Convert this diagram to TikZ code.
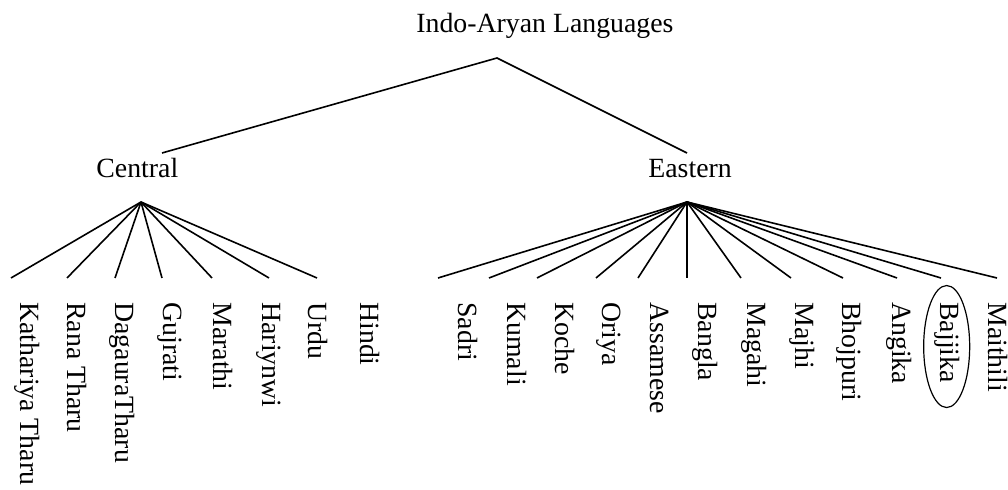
\documentclass[tikz,border=0pt]{standalone}
\usepackage{fontspec}
\setmainfont{Liberation Serif}

\begin{document}
\begin{tikzpicture}[x=0.5pt,y=0.5pt,
	font=\fontsize{13.9}{16}\selectfont,
	label/.style={anchor=base west,inner sep=0pt},
	leaf/.style={rotate=-90,anchor=base west,inner sep=0pt},
	branch/.style={line width=0.8pt}]
	\useasboundingbox (0,0) rectangle (1008,-490);

	\node[label] (root) at (416,-33) {Indo-Aryan Languages};
	\node[label] (central) at (96,-178) {Central};
	\node[label] (eastern) at (648,-178) {Eastern};

	\coordinate (root-fork) at (497,-58);
	\coordinate (central-top) at (162,-153);
	\coordinate (eastern-top) at (687,-153);
	\coordinate (central-fork) at (141,-202);
	\coordinate (eastern-fork) at (687,-202);

	% central leaves
	\node[leaf] (kathariya) at (20,-302) {Kathariya Tharu};
	\node[leaf] (rana) at (68,-302) {Rana Tharu};
	\node[leaf] (dagaura) at (115,-302) {DagauraTharu};
	\node[leaf] (gujrati) at (163,-302) {Gujrati};
	\node[leaf] (marathi) at (213,-302) {Marathi};
	\node[leaf] (hariynwi) at (262,-302) {Hariynwi};
	\node[leaf] (urdu) at (308,-302) {Urdu};
	\node[leaf] (hindi) at (360,-302) {Hindi};

	% eastern leaves
	\node[leaf] (sadri) at (458,-302) {Sadri};
	\node[leaf] (kumali) at (507,-302) {Kumali};
	\node[leaf] (koche) at (555,-302) {Koche};
	\node[leaf] (oriya) at (602,-302) {Oriya};
	\node[leaf] (assamese) at (650,-302) {Assamese};
	\node[leaf] (bangla) at (698,-302) {Bangla};
	\node[leaf] (magahi) at (747,-302) {Magahi};
	\node[leaf] (majhi) at (795,-302) {Majhi};
	\node[leaf] (bhojpuri) at (842,-302) {Bhojpuri};
	\node[leaf] (angika) at (892,-302) {Angika};
	\node[leaf] (bajjika) at (940,-302) {Bajjika};
	\node[leaf] (maithili) at (988,-302) {Maithili};

	\coordinate (kathariya-end) at (11,-278);
	\coordinate (rana-end) at (67,-278);
	\coordinate (dagaura-end) at (115,-278);
	\coordinate (gujrati-end) at (162,-278);
	\coordinate (marathi-end) at (212,-278);
	\coordinate (hariynwi-end) at (269,-278);
	\coordinate (urdu-end) at (317,-278);

	\coordinate (sadri-end) at (438,-278);
	\coordinate (kumali-end) at (489,-278);
	\coordinate (koche-end) at (537,-278);
	\coordinate (oriya-end) at (596,-278);
	\coordinate (assamese-end) at (638,-278);
	\coordinate (bangla-end) at (687,-278);
	\coordinate (magahi-end) at (741,-278);
	\coordinate (majhi-end) at (791,-278);
	\coordinate (bhojpuri-end) at (843,-278);
	\coordinate (angika-end) at (897,-278);
	\coordinate (bajjika-end) at (941,-278);
	\coordinate (maithili-end) at (997,-278);

	\draw[branch] (central-top) -- (root-fork) -- (eastern-top);

	\draw[branch] (central-fork) -- (kathariya-end);
	\draw[branch] (central-fork) -- (rana-end);
	\draw[branch] (central-fork) -- (dagaura-end);
	\draw[branch] (central-fork) -- (gujrati-end);
	\draw[branch] (central-fork) -- (marathi-end);
	\draw[branch] (central-fork) -- (hariynwi-end);
	\draw[branch] (central-fork) -- (urdu-end);

	\draw[branch] (eastern-fork) -- (sadri-end);
	\draw[branch] (eastern-fork) -- (kumali-end);
	\draw[branch] (eastern-fork) -- (koche-end);
	\draw[branch] (eastern-fork) -- (oriya-end);
	\draw[branch] (eastern-fork) -- (assamese-end);
	\draw[branch] (eastern-fork) -- (bangla-end);
	\draw[branch] (eastern-fork) -- (magahi-end);
	\draw[branch] (eastern-fork) -- (majhi-end);
	\draw[branch] (eastern-fork) -- (bhojpuri-end);
	\draw[branch] (eastern-fork) -- (angika-end);
	\draw[branch] (eastern-fork) -- (bajjika-end);
	\draw[branch] (eastern-fork) -- (maithili-end);

	\draw[line width=0.6pt] ([yshift=-2pt]bajjika.center) ellipse [x radius=11.5pt,y radius=30.5pt];
\end{tikzpicture}
\end{document}
